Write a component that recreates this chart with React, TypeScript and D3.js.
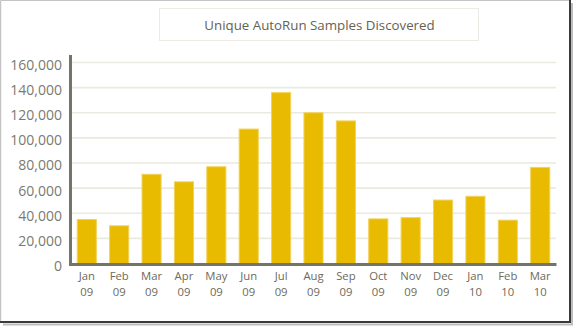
import React from "react";
import * as d3 from "d3";

const categories = ["Jan 09","Feb 09","Mar 09","Apr 09","May 09","Jun 09","Jul 09","Aug 09","Sep 09","Oct 09","Nov 09","Dec 09","Jan 10","Feb 10","Mar 10"];
const samples = [35000,30000,71000,65000,77000,107000,136000,120000,113500,35500,36500,50500,53500,34500,76500];
const yTicks = [0,20000,40000,60000,80000,100000,120000,140000,160000];
const title = "Unique AutoRun Samples Discovered";

export default function App() {
  const W = 574, H = 326;
  const x = d3.scaleBand<string>().domain(categories).range([70.6, 556.4]).paddingInner(0.41).paddingOuter(0.205);
  const y = d3.scaleLinear().domain([0, 160000]).range([263.5, 62.5]);
  const fmt = d3.format(",");
  const font = "'Open Sans', 'Noto Sans', sans-serif";
  return (
    <svg width={W} height={H} style={{ position: "absolute", left: 0, top: 0 }} fontFamily={font}>
      <rect x={0} y={0} width={W} height={H} fill="#ffffff" />
      {/* shadow */}
      <line x1={572} y1={3} x2={572} y2={325} stroke="#bdbdbd" strokeWidth={2} />
      <line x1={3} y1={324.5} x2={573} y2={324.5} stroke="#bdbdbd" strokeWidth={2} />
      <line x1={0.5} y1={0.5} x2={570} y2={0.5} stroke="#c4c4c4" strokeWidth={1} />
      <line x1={0.5} y1={0.5} x2={0.5} y2={322} stroke="#c4c4c4" strokeWidth={1.5} />
      <line x1={570} y1={0} x2={570} y2={323} stroke="#3a3a3a" strokeWidth={2} />
      <line x1={0} y1={322} x2={571} y2={322} stroke="#3a3a3a" strokeWidth={2} />

      {/* title box */}
      <rect x={159.5} y={8.5} width={319} height={32} fill="#ffffff" stroke="#ecece4" strokeWidth={1} />
      <text x={319.5} y={25} dy="0.35em" textAnchor="middle" fontSize={13.3} fill="#676150">{title}</text>

      {/* gridlines */}
      {yTicks.filter(t => t > 0).map(t => (
        <line key={t} x1={72} x2={556} y1={y(t)} y2={y(t)} stroke="#ebeadf" strokeWidth={1.6} />
      ))}
      {/* y tick labels */}
      {yTicks.map(t => (
        <text key={t} x={62} y={y(t) + 2.5} dy="0.35em" textAnchor="end" fontSize={14} fill="#7b7a70">{fmt(t)}</text>
      ))}

      {/* bars */}
      {categories.map((c, i) => (
        <rect key={c} x={x(c)!} y={y(samples[i])} width={x.bandwidth()} height={y(0) - y(samples[i])}
          fill="#e8bb00" stroke="#f1d25a" strokeWidth={1} />
      ))}

      {/* axes */}
      <line x1={70.5} x2={70.5} y1={55} y2={266} stroke="#74746a" strokeWidth={3} />
      <line x1={69} x2={556.5} y1={264.5} y2={264.5} stroke="#74746a" strokeWidth={3} />

      {/* x labels */}
      {categories.map(c => {
        const [m, yr] = c.split(" ");
        const cx = x(c)! + x.bandwidth() / 2;
        return (
          <g key={c}>
            <text x={cx} y={276.5} dy="0.35em" textAnchor="middle" fontSize={11.3} fill="#6e6a5c">{m}</text>
            <text x={cx} y={292} dy="0.35em" textAnchor="middle" fontSize={11.3} fill="#6e6a5c">{yr}</text>
          </g>
        );
      })}
    </svg>
  );
}
